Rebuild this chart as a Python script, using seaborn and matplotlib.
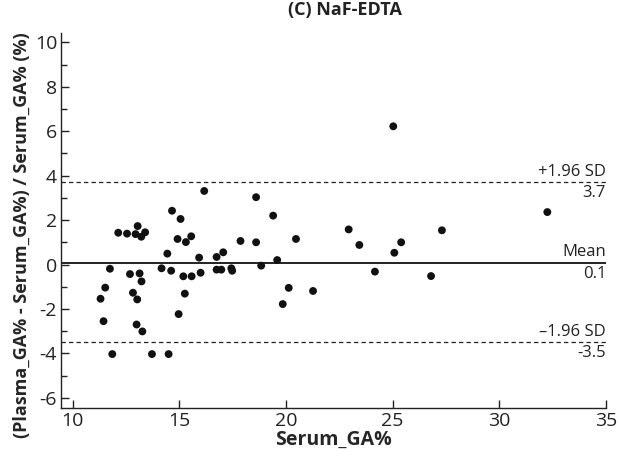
import pandas as pd
import matplotlib.pyplot as plt
import seaborn as sns
from matplotlib.ticker import MultipleLocator

# values
serum_ga = [16.17, 18.6, 14.66, 15.06, 13.05, 12.14, 12.55, 12.95, 13.22, 13.4,
            15.56, 14.92, 15.31, 17.87, 18.6, 14.44, 17.06, 16.75, 15.93, 11.75,
            14.17, 14.62, 16.75, 16.97, 17.44, 17.48, 18.84, 12.69, 13.14, 13.23,
            16.0, 15.19, 15.58, 11.53, 11.31, 12.83, 13.03, 15.26, 14.97, 11.45,
            13.0, 13.27, 11.86, 13.72, 14.5, 25.03, 19.4, 20.47, 22.94, 23.44,
            25.4, 27.31, 25.08, 19.59, 24.17, 26.8, 32.25, 20.13, 21.27, 19.85]
diff_pct = [3.31, 3.03, 2.42, 2.05, 1.73, 1.43, 1.39, 1.37, 1.25, 1.45,
            1.27, 1.15, 1.01, 1.06, 1.0, 0.49, 0.55, 0.34, 0.31, -0.19,
            -0.17, -0.28, -0.23, -0.23, -0.17, -0.28, -0.05, -0.43, -0.40, -0.76,
            -0.37, -0.53, -0.53, -1.04, -1.54, -1.27, -1.57, -1.31, -2.23, -2.55,
            -2.70, -3.01, -4.03, -4.03, -4.03, 6.22, 2.2, 1.15, 1.58, 0.88,
            1.0, 1.54, 0.53, 0.2, -0.32, -0.52, 2.36, -1.05, -1.19, -1.78]

mean_diff = 0.07
upper_loa = 3.7
lower_loa = -3.5

df = pd.DataFrame({"Serum_GA%": serum_ga, "diff": diff_pct})

sns.set_style("ticks")
plt.rcParams['font.family'] = ['Open Sans', 'DejaVu Sans']

fig = plt.figure(figsize=(6.19, 4.58), dpi=100)
ax = fig.add_axes([0.099, 0.109, 0.880, 0.820])

sns.scatterplot(ax=ax, data=df, x="Serum_GA%", y="diff", color="#111111",
                s=32, edgecolor="none", legend=False, zorder=3)

ax.set_xlim(9.47, 35.0)
ax.set_ylim(-6.46, 10.44)

ax.axhline(mean_diff, color="#222222", lw=1.4, zorder=2)
ax.axhline(upper_loa, color="#222222", lw=0.9, ls=(0, (3.5, 2.5)), zorder=2)
ax.axhline(lower_loa, color="#222222", lw=0.9, ls=(0, (3.5, 2.5)), zorder=2)

# labels on the right of the lines
xr = 35.0
lbl = dict(fontsize=12, ha="right", color="#222222")
ax.text(xr, upper_loa + 0.12, "+1.96 SD", va="bottom", **lbl)
ax.text(xr, upper_loa - 0.12, "3.7", va="top", **lbl)
ax.text(xr, mean_diff + 0.12, "Mean", va="bottom", **lbl)
ax.text(xr, mean_diff - 0.12, "0.1", va="top", **lbl)
ax.text(xr, lower_loa + 0.12, "\u20131.96 SD", va="bottom", **lbl)
ax.text(xr, lower_loa - 0.12, "-3.5", va="top", **lbl)

ax.set_xticks([10, 15, 20, 25, 30, 35])
ax.set_yticks([-6, -4, -2, 0, 2, 4, 6, 8, 10])
ax.yaxis.set_minor_locator(MultipleLocator(1))
ax.tick_params(axis="both", which="major", direction="in", length=6, width=1,
               labelsize=14, colors="#222222", pad=3)
ax.tick_params(axis="y", which="minor", direction="in", length=4, width=1,
               colors="#222222")
ax.set_yticklabels(["-6", "-4", "-2", "0", "2", "4", "6", "8", "10"])

for s in ["top", "right"]:
    ax.spines[s].set_visible(False)
for s in ["left", "bottom"]:
    ax.spines[s].set_color("#222222")
    ax.spines[s].set_linewidth(1)

ax.set_xlabel("Serum_GA%", fontsize=14, fontweight="bold", labelpad=0)
ax.set_ylabel("(Plasma_GA% - Serum_GA%) / Serum_GA% (%)", fontsize=13,
              fontweight="bold")
ax.yaxis.set_label_coords(-0.056, 0.46)

fig.text(0.557, 0.997, "(C) NaF-EDTA", fontsize=13, fontweight="bold",
         ha="center", va="top", color="#222222")

fig.savefig("out.png", dpi=100)
